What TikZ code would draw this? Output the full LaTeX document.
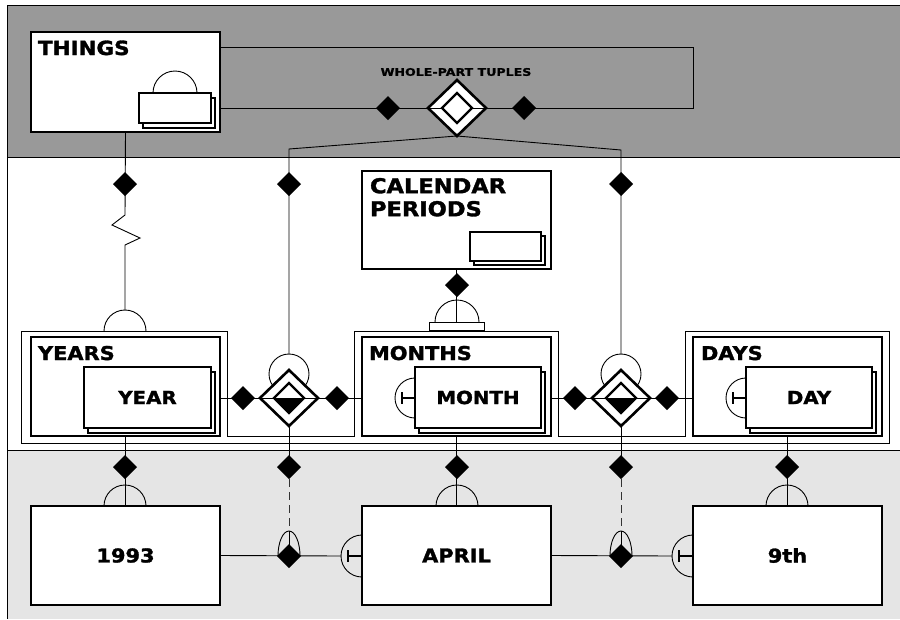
\documentclass[tikz,border=0pt]{standalone}
\usepackage{fontspec}
\setmainfont{DejaVu Sans}[FakeStretch=1.1, BoldFeatures={FakeBold=1.6}]
\newfontfamily\widefont{DejaVu Sans}[FakeStretch=1.2, BoldFeatures={FakeBold=1.2}]
\usetikzlibrary{shapes.geometric}
\definecolor{topband}{HTML}{999999}
\definecolor{botband}{HTML}{E5E5E5}
\pgfdeclarelayer{bands}
\pgfdeclarelayer{wires}
\pgfsetlayers{bands,wires,main}
\begin{document}
\begin{tikzpicture}[x=1pt,y=-1pt,
  thin/.style={line width=0.9pt},
  frameline/.style={line width=1pt},
  dashwire/.style={line width=0.9pt, dash pattern=on 8pt off 5pt, black!80},
  thickbox/.style={draw, line width=2.8pt, fill=white, rectangle, inner sep=0pt, outer sep=0pt, anchor=north west},
  stackbox/.style={draw, line width=2pt, fill=white, rectangle, inner sep=0pt, outer sep=0pt, anchor=north west},
  bdia/.style={diamond, fill=black, inner sep=0pt, outer sep=0pt, minimum width=24pt, minimum height=24pt},
  odia/.style={diamond, draw, line width=2.6pt, fill=white, inner sep=0pt, outer sep=0pt, minimum width=58pt, minimum height=56pt},
  idia/.style={diamond, draw, line width=2.4pt, fill=white, inner sep=0pt, outer sep=0pt, minimum width=30pt, minimum height=30pt},
  rcirc/.style={circle, draw, line width=0.9pt, inner sep=0pt, outer sep=0pt, minimum size=40pt},
  tbar/.style={line width=2.8pt},
  bigtxt/.style={font=\fontsize{20.5}{23}\selectfont\bfseries, inner sep=0pt, outer sep=0pt},
  thtxt/.style={font=\fontsize{19.5}{22}\selectfont\bfseries, inner sep=0pt, outer sep=0pt},
  medtxt/.style={font=\fontsize{19}{22}\selectfont\bfseries, inner sep=0pt, outer sep=0pt},
  intxt/.style={font=\fontsize{18}{21}\selectfont\bfseries, inner sep=0pt, outer sep=0pt},
  wptxt/.style={font=\widefont\fontsize{10.5}{12}\selectfont\bfseries, inner sep=0pt, outer sep=0pt}
]
\useasboundingbox (0,0) rectangle (900,619);

% ---------------- bands ----------------
\begin{pgfonlayer}{bands}
\fill[white] (0,0) rectangle (900,619);
\fill[topband] (7,5) rectangle (900,157);
\fill[white] (7,157) rectangle (900,450);
\fill[botband] (7,450) rectangle (900,619);
\draw[frameline] (900,5) -- (7,5) -- (7,619);
\draw[frameline] (7,157) -- (900,157);
\draw[frameline] (7,450) -- (900,450);
\draw[thin] (21,331) -- (227,331) -- (227,436) -- (354,436) -- (354,331) -- (558,331)
  -- (558,436) -- (685,436) -- (685,331) -- (889,331) -- (889,443) -- (21,443) -- cycle;
\end{pgfonlayer}

% ---------------- coordinates ----------------
\coordinate (thSemiTop) at (175,71);
\coordinate (c0) at (175,47);
\coordinate (c1) at (693,47);
\coordinate (c2) at (693,108);
\coordinate (wl) at (289,149);
\coordinate (wr) at (621,150);
\coordinate (z1) at (125,215);
\coordinate (z2) at (112,225);
\coordinate (z3) at (140,238);
\coordinate (z4) at (125,245);
\coordinate (yrSemiTop) at (125,310);
\coordinate (monSemiW) at (395,398);
\coordinate (daySemiW) at (726,398);
\coordinate (aprSemiW) at (341,556);
\coordinate (ninSemiW) at (672,556);
\coordinate (lEllTop) at (289,531);
\coordinate (rEllTop) at (621,531);

% ---------------- THINGS ----------------
\node[thickbox, minimum width=189pt, minimum height=100pt] (things) at (31,32) {};
\node[thtxt, anchor=base west] (thingsT) at (38,55) {THINGS};
\draw[thin] (153,93) arc[start angle=180, end angle=0, radius=22pt];
\node[stackbox, minimum width=72pt, minimum height=30pt] (thingsB) at (143,98) {};
\node[stackbox, minimum width=72pt, minimum height=30pt] (thingsF) at (139,93) {};

% ---------------- whole-part tuples ----------------
\node[odia] (wo) at (457,108) {};
\draw[thin] (wo.west) -- (wo.east);
\node[idia] (wi) at (457,108) {};
\node[bdia] (wd1) at (388,108) {};
\node[bdia] (wd2) at (524,108) {};
\node[wptxt] (wlabel) at (456,72) {WHOLE-PART TUPLES};

% ---------------- CALENDAR PERIODS ----------------
\node[thickbox, minimum width=189pt, minimum height=98pt] (cal) at (362,171) {};
\node[bigtxt, anchor=north west, align=left] (calT) at (370,178) {CALENDAR\\PERIODS};
\node[stackbox, minimum width=71pt, minimum height=29pt] (calB) at (474,236) {};
\node[stackbox, minimum width=71pt, minimum height=29pt] (calF) at (470,232) {};
\node[bdia] (calD) at (457,285) {};
\draw[thin] (435,322) arc[start angle=180, end angle=0, radius=22pt];
\node[draw, line width=0.9pt, fill=white, rectangle, inner sep=0pt, outer sep=0pt, anchor=north west,
  minimum width=55pt, minimum height=8pt] (calBar) at (429,322) {};

% ---------------- diamonds in middle band ----------------
\node[bdia] (td1) at (125,184) {};
\node[bdia] (td2) at (289,184) {};
\node[bdia] (td3) at (621,184) {};

% ---------------- YEARS ----------------
\draw[thin] (104,331) arc[start angle=180, end angle=0, radius=21pt];
\node[thickbox, minimum width=189pt, minimum height=99pt] (years) at (31,337) {};
\node[medtxt, anchor=base west] (yearsT) at (38,360) {YEARS};
\node[stackbox, minimum width=127pt, minimum height=61pt] (yearB) at (88,372) {};
\node[stackbox, minimum width=127pt, minimum height=61pt] (yearF) at (84,367) {};
\node[intxt] (yearT) at (yearF.center) {YEAR};

% ---------------- MONTHS ----------------
\node[thickbox, minimum width=189pt, minimum height=99pt] (months) at (362,337) {};
\node[medtxt, anchor=base west] (monthsT) at (369,360) {MONTHS};
\draw[thin] (415,378) arc[start angle=90, end angle=270, radius=20pt];
\draw[tbar] (402,392) -- (402,404);
\draw[tbar] (402,398) -- (415,398);
\node[stackbox, minimum width=126pt, minimum height=61pt] (monthB) at (419,372) {};
\node[stackbox, minimum width=126pt, minimum height=61pt] (monthF) at (415,367) {};
\node[intxt] (monthT) at (monthF.center) {MONTH};

% ---------------- DAYS ----------------
\node[thickbox, minimum width=189pt, minimum height=99pt] (days) at (693,337) {};
\node[medtxt, anchor=base west] (daysT) at (701,360) {DAYS};
\draw[thin] (746,378) arc[start angle=90, end angle=270, radius=20pt];
\draw[tbar] (733,392) -- (733,404);
\draw[tbar] (733,398) -- (746,398);
\node[stackbox, minimum width=126pt, minimum height=61pt] (dayB) at (750,372) {};
\node[stackbox, minimum width=126pt, minimum height=61pt] (dayF) at (746,367) {};
\node[intxt] (dayT) at (dayF.center) {DAY};

% ---------------- relationship left ----------------
\node[rcirc] (lc) at (289,374) {};
\node[odia] (lo) at (289,398) {};
\draw[thin] (lo.west) -- (lo.east);
\node[idia] (li) at (289,398) {};
\fill (li.west) -- (li.east) -- (li.south) -- cycle;
\node[bdia] (ld1) at (243,398) {};
\node[bdia] (ld2) at (337,398) {};

% ---------------- relationship right ----------------
\node[rcirc] (rc) at (621,374) {};
\node[odia] (ro) at (621,398) {};
\draw[thin] (ro.west) -- (ro.east);
\node[idia] (ri) at (621,398) {};
\fill (ri.west) -- (ri.east) -- (ri.south) -- cycle;
\node[bdia] (rd1) at (575,398) {};
\node[bdia] (rd2) at (667,398) {};

% ---------------- bottom instances ----------------
\draw[thin] (104,506) arc[start angle=180, end angle=0, radius=21pt];
\draw[thin] (436,506) arc[start angle=180, end angle=0, radius=21pt];
\draw[thin] (766,506) arc[start angle=180, end angle=0, radius=21pt];
\draw[thin] (362,535) arc[start angle=90, end angle=270, radius=21pt];
\draw[thin] (693,535) arc[start angle=90, end angle=270, radius=21pt];
\node[thickbox, minimum width=189pt, minimum height=99pt] (b1993) at (31,506) {};
\node[thickbox, minimum width=189pt, minimum height=99pt] (april) at (362,506) {};
\node[thickbox, minimum width=189pt, minimum height=99pt] (ninth) at (693,506) {};
\node[medtxt] (t1993) at (b1993.center) {1993};
\node[medtxt] (tapril) at (april.center) {APRIL};
\node[medtxt] (tninth) at (ninth.center) {9th};
\draw[tbar] (348,550) -- (348,562);
\draw[tbar] (348,556) -- (362,556);
\draw[tbar] (679,550) -- (679,562);
\draw[tbar] (679,556) -- (693,556);

\node[bdia] (bd1) at (125,467) {};
\node[bdia] (bd2) at (289,467) {};
\node[bdia] (bd3) at (457,467) {};
\node[bdia] (bd4) at (621,467) {};
\node[bdia] (bd5) at (787,467) {};

\draw[thin] (278,556) arc[start angle=180, end angle=0, x radius=11pt, y radius=25pt];
\draw[thin] (610,556) arc[start angle=180, end angle=0, x radius=11pt, y radius=25pt];
\node[bdia] (bm1) at (289,556) {};
\node[bdia] (bm2) at (621,556) {};

% ---------------- wires ----------------
\begin{pgfonlayer}{wires}
\draw[thin] (thSemiTop) -- (c0) -- (c1) -- (c2) -- (thingsB.east |- c2);
\draw[thin] (wo.south) -- (wl) -- (lc.north);
\draw[thin] (wo.south) -- (wr) -- (rc.north);
\draw[thin] (things.south) -- (z1) -- (z2) -- (z3) -- (z4) -- (yrSemiTop);
\draw[thin] (cal.south) -- (calBar.north);
\draw[thin] (yearB.east |- lo) -- (monSemiW);
\draw[thin] (monthB.east |- ro) -- (daySemiW);
\draw[thin] (years.south) -- (b1993.north);
\draw[thin] (months.south) -- (april.north);
\draw[thin] (days.south) -- (ninth.north);
\draw[thin] (lo.south) -- (bd2.center);
\draw[thin] (ro.south) -- (bd4.center);
\draw[dashwire] (bd2.south) -- (lEllTop);
\draw[dashwire] (bd4.south) -- (rEllTop);
\draw[thin] (lEllTop) -- (bm1.center);
\draw[thin] (rEllTop) -- (bm2.center);
\draw[thin] (b1993.east) -- (aprSemiW);
\draw[thin] (april.east) -- (ninSemiW);
\end{pgfonlayer}
\end{tikzpicture}
\end{document}
